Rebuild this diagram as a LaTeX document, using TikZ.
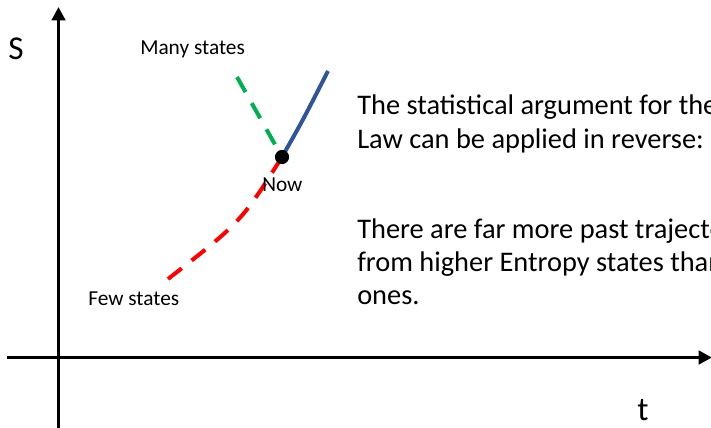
\documentclass[tikz,border=0pt]{standalone}
\usepackage{fontspec}
\setmainfont{Carlito}
\usetikzlibrary{arrows.meta}
\definecolor{mygreen}{RGB}{0,176,80}
\definecolor{myred}{RGB}{255,0,0}
\definecolor{myblue}{RGB}{47,85,151}
\tikzset{
  axis/.style={line width=2.6pt,-{Triangle[width=10pt,length=10pt]}},
  traj/.style={line width=3pt},
  dashtraj/.style={line width=3pt,dash pattern=on 13pt off 9.5pt},
  small/.style={font=\fontsize{16}{19}\selectfont,anchor=base west,inner sep=0pt},
  big/.style={font=\fontsize{21.3}{26}\selectfont,anchor=base west,inner sep=0pt},
  axlabel/.style={font=\fontsize{25}{30}\selectfont,anchor=base west,inner sep=0pt}
}
\begin{document}
\begin{tikzpicture}[x=0.75pt,y=-0.75pt]
\useasboundingbox (0,0) rectangle (711,428);
\clip (0,0) rectangle (711,428);
\fill[white] (0,0) rectangle (711,428);
% axes
\coordinate (ybot) at (58.5,440);
\coordinate (ytop) at (58.5,7);
\coordinate (xleft) at (7,357.5);
\coordinate (xright) at (712,357.5);
\draw[axis] (ybot) -- (ytop);
\draw[axis] (xleft) -- (xright);
\node[axlabel] (S) at (8,60) {S};
\node[axlabel] (t) at (637,420) {t};
% trajectories
\coordinate (now) at (282,157);
\coordinate (blueend) at (328,71);
\coordinate (greenend) at (237,77);
\coordinate (redend) at (168,279);
\draw[traj,myblue] (now) .. controls (303,120) .. (blueend);
\draw[dashtraj,mygreen] (greenend) -- (now);
\draw[dashtraj,myred] (redend) .. controls (241,222) .. (now);
\fill[black] (now) circle (5.3pt);
\node[small] (nowlbl) at (262,191) {Now};
\node[small] (many) at (140,55) {Many states};
\node[small] (few) at (88,305) {Few states};
% text
\node[big] (l1) at (357,115) {The statistical argument for the Second};
\node[big] (l2) at (357,148) {Law can be applied in reverse:};
\node[big] (l3) at (357,238) {There are far more past trajectories};
\node[big] (l4) at (357,271) {from higher Entropy states than lower};
\node[big] (l5) at (357,304) {ones.};
\end{tikzpicture}
\end{document}
